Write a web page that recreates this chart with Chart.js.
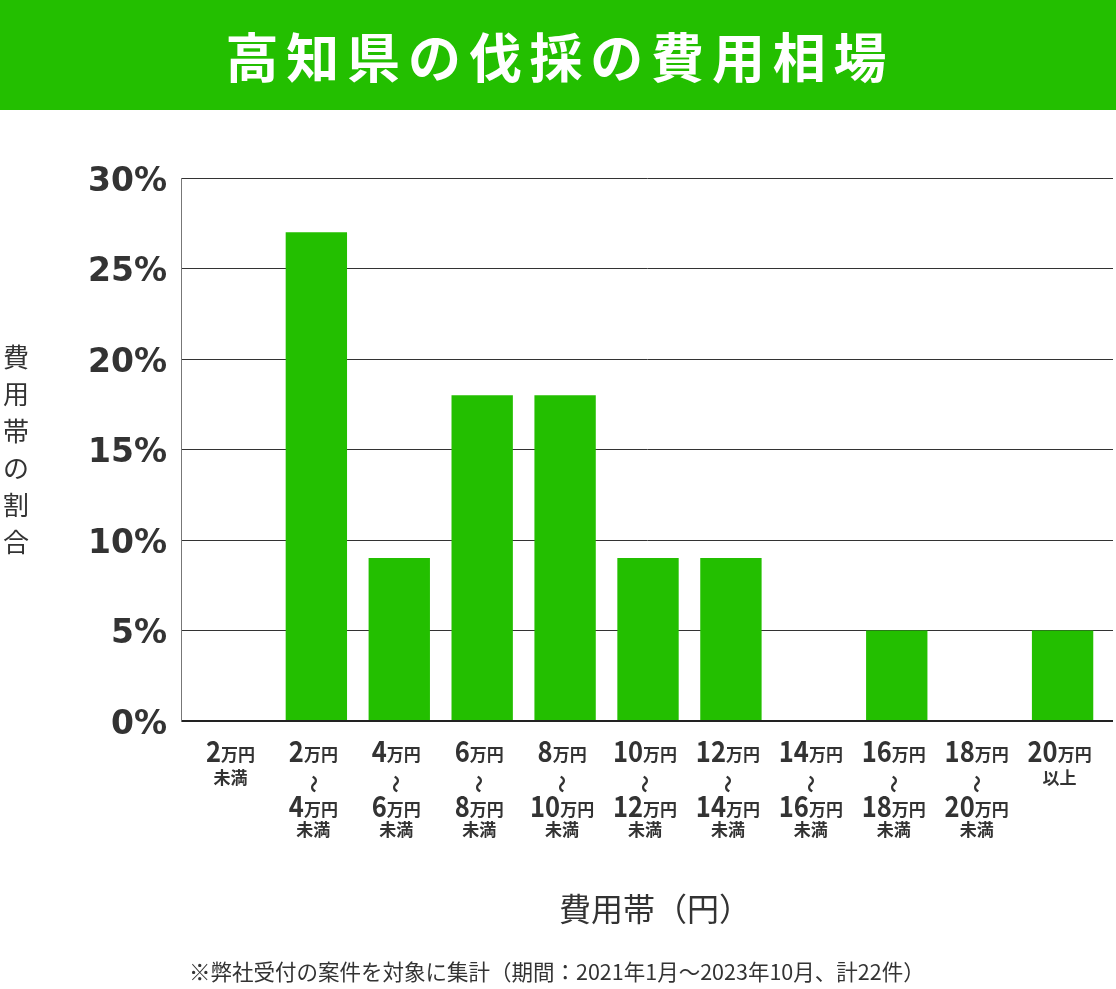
<!DOCTYPE html>
<html><head><meta charset="utf-8">
<script src="https://cdn.jsdelivr.net/npm/chart.js@4/dist/chart.umd.min.js"></script>
<style>html,body{margin:0;padding:0;background:#fff;}#wrap{width:1116px;height:989px;position:relative;}</style>
</head><body><div id="wrap"><canvas id="c" width="1116" height="989"></canvas></div>
<script>
const chartTitle = '高知県の伐採の費用相場';
const yAxisTitle = '費用帯の割合';
const xAxisTitle = '費用帯（円）';
const footnote = '※弊社受付の案件を対象に集計（期間：2021年1月～2023年10月、計22件）';
const categories = ['2万円未満','2万円～4万円未満','4万円～6万円未満','6万円～8万円未満','8万円～10万円未満','10万円～12万円未満','12万円～14万円未満','14万円～16万円未満','16万円～18万円未満','18万円～20万円未満','20万円以上'];
const tickLabelLines = [
  ['2万円','未満'],
  ['2万円','～','4万円','未満'],
  ['4万円','～','6万円','未満'],
  ['6万円','～','8万円','未満'],
  ['8万円','～','10万円','未満'],
  ['10万円','～','12万円','未満'],
  ['12万円','～','14万円','未満'],
  ['14万円','～','16万円','未満'],
  ['16万円','～','18万円','未満'],
  ['18万円','～','20万円','未満'],
  ['20万円','以上']
];
const shares = [0,27,9,18,18,9,9,0,5,0,5];
const yMin = 0, yMax = 30, yStep = 5;
const xMin = -0.6325, xMax = 10.608;

const GREEN = '#23bf00';
const TEXT = '#333333';
const JP = '"Noto Sans CJK JP", "Noto Sans", sans-serif';

function drawScaled(ctx, text, x, y, sx) {
  ctx.save();
  ctx.translate(x, y);
  ctx.scale(sx, 1);
  ctx.fillText(text, 0, 0);
  ctx.restore();
}

const decor = {
  id: 'decor',
  beforeDraw(chart) {
    const ctx = chart.ctx;
    ctx.save();
    ctx.fillStyle = '#fff';
    ctx.fillRect(0, 0, chart.width, chart.height);
    ctx.fillStyle = GREEN;
    ctx.fillRect(0, 0, chart.width, 110);
    ctx.fillStyle = '#fff';
    ctx.font = 'bold 53px ' + JP;
    ctx.textAlign = 'center';
    ctx.textBaseline = 'middle';
    const chars = Array.from(chartTitle);
    chars.forEach((ch, i) => ctx.fillText(ch, 252 + i * 60.8, 58));
    ctx.restore();
  },
  afterDraw(chart) {
    const ctx = chart.ctx;
    const xs = chart.scales.x;
    ctx.save();
    ctx.fillStyle = TEXT;
    // y axis title, vertical
    ctx.font = '26px ' + JP;
    ctx.textAlign = 'center';
    ctx.textBaseline = 'middle';
    Array.from(yAxisTitle).forEach((ch, i) => ctx.fillText(ch, 16, 357 + i * 37));
    // x tick labels
    tickLabelLines.forEach((lines, i) => {
      const cx = xs.getPixelForValue(i) - 3;
      const ys = lines.length === 2 ? [762, 784] : [762, 784, 817, 836];
      lines.forEach((ln, j) => {
        const y = ys[j];
        const m = ln.match(/^(\d+)(万円)$/);
        if (m) {
          ctx.textAlign = 'left';
          ctx.textBaseline = 'alphabetic';
          const sx = 0.88;
          ctx.font = 'bold 29px ' + JP;
          const wn = ctx.measureText(m[1]).width * sx;
          ctx.font = 'bold 17px ' + JP;
          const wu = ctx.measureText(m[2]).width;
          const x0 = cx - (wn + wu) / 2;
          ctx.font = 'bold 29px ' + JP;
          drawScaled(ctx, m[1], x0, y, sx);
          ctx.font = 'bold 17px ' + JP;
          ctx.fillText(m[2], x0 + wn, y - 1);
        } else if (ln === '～') {
          ctx.save();
          ctx.translate(cx, y);
          ctx.rotate(Math.PI / 2);
          ctx.font = 'bold 18px ' + JP;
          ctx.textAlign = 'center';
          ctx.textBaseline = 'middle';
          ctx.fillText(ln, 0, 0);
          ctx.restore();
        } else {
          ctx.font = 'bold 17px ' + JP;
          ctx.textAlign = 'center';
          ctx.textBaseline = 'alphabetic';
          ctx.fillText(ln, cx, y);
        }
      });
    });
    // x axis title
    ctx.font = '32px ' + JP;
    ctx.textAlign = 'left';
    ctx.textBaseline = 'middle';
    ctx.fillText(xAxisTitle, 559, 909);
    // footnote
    ctx.font = '21.5px ' + JP;
    ctx.textAlign = 'left';
    ctx.fillText(footnote, 189, 972);
    ctx.restore();
  }
};

new Chart(document.getElementById('c'), {
  type: 'bar',
  data: {
    datasets: [{
      label: '割合',
      data: shares.map((v, i) => ({ x: i, y: v })),
      backgroundColor: GREEN,
      borderWidth: 0,
      barPercentage: 0.74,
      categoryPercentage: 1.0
    }]
  },
  options: {
    responsive: false,
    animation: false,
    devicePixelRatio: 1,
    layout: { padding: { top: 178, right: 3, left: 0, bottom: 0 } },
    plugins: { legend: { display: false }, tooltip: { enabled: false }, title: { display: false } },
    scales: {
      x: {
        type: 'linear',
        min: xMin, max: xMax,
        offset: false,
        grid: { display: false },
        border: { display: false },
        ticks: { display: false },
        afterFit(scale) { scale.height = 268; }
      },
      y: {
        min: yMin, max: yMax,
        ticks: {
          stepSize: yStep,
          padding: 14,
          labelOffset: 4,
          color: TEXT,
          font: { family: '"DejaVu Sans", sans-serif', size: 33, weight: 'bold' },
          callback: v => v + '%'
        },
        grid: {
          color: ctx => ctx.tick && ctx.tick.value === 0 ? '#222' : '#333',
          lineWidth: ctx => ctx.tick && ctx.tick.value === 0 ? 2 : 1,
          drawTicks: false
        },
        border: { display: true, color: '#777', width: 1 },
        afterFit(scale) { scale.width = 181; }
      }
    }
  },
  plugins: [decor]
});
</script></body></html>
